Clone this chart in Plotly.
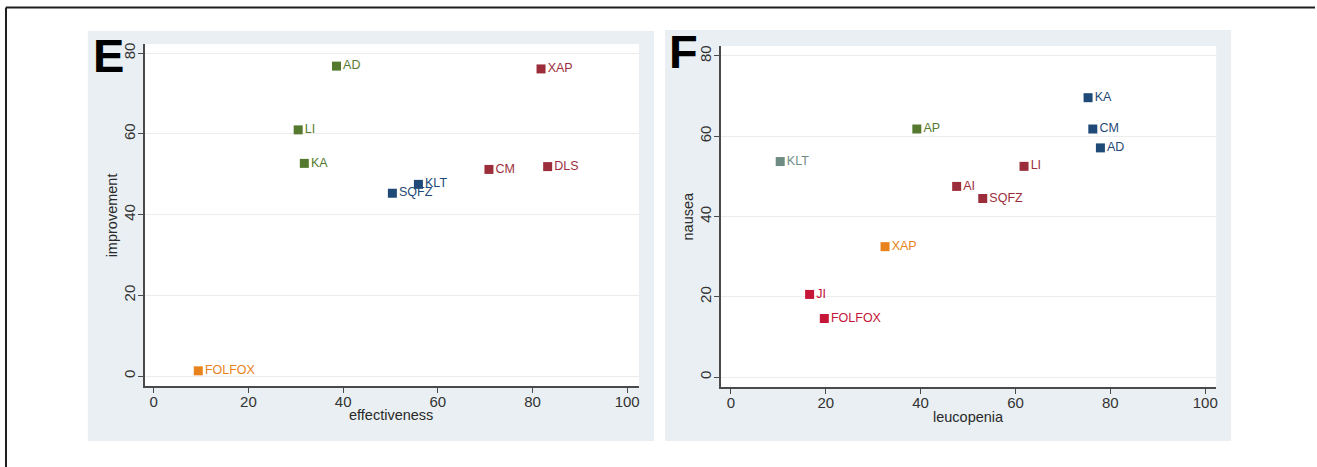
import plotly.graph_objects as go

# Panel E: effectiveness vs improvement
e_labels = ["AD", "LI", "KA", "XAP", "CM", "DLS", "KLT", "SQFZ", "FOLFOX"]
e_effectiveness = [38.6, 30.5, 31.8, 81.8, 70.8, 83.2, 55.9, 50.4, 9.4]
e_improvement = [76.8, 61.0, 52.7, 76.1, 51.2, 51.9, 47.5, 45.3, 1.3]

# Panel F: leucopenia vs nausea
f_labels = ["KA", "CM", "AD", "AP", "KLT", "LI", "AI", "SQFZ", "XAP", "JI", "FOLFOX"]
f_leucopenia = [75.3, 76.3, 77.9, 39.2, 10.4, 61.8, 47.6, 53.1, 32.5, 16.6, 19.7]
f_nausea = [69.6, 61.8, 57.1, 61.8, 53.7, 52.5, 47.5, 44.5, 32.5, 20.6, 14.6]

tick_vals = [0, 20, 40, 60, 80, 100]
tick_text = ["0", "20", "40", "60", "80", "100"]

GREEN = "#557a2f"
MAROON = "#9c2e3b"
NAVY = "#1f4a78"
ORANGE = "#e8821c"
CRIMSON = "#c51539"
SAGE = "#6f8c84"

e_colors = {"AD": GREEN, "LI": GREEN, "KA": GREEN, "XAP": MAROON, "CM": MAROON,
            "DLS": MAROON, "KLT": NAVY, "SQFZ": NAVY, "FOLFOX": ORANGE}
f_colors = {"KA": NAVY, "CM": NAVY, "AD": NAVY, "AP": GREEN, "KLT": SAGE,
            "LI": MAROON, "AI": MAROON, "SQFZ": MAROON, "XAP": ORANGE,
            "JI": CRIMSON, "FOLFOX": CRIMSON}

W, H = 1317, 467
FONT = "Liberation Sans, Arial, sans-serif"
PANEL_BG = "#e9eff2"


def px(x):
    return x / W


def py(y):
    return (H - y) / H


fig = go.Figure()


def add_points(labels, xs, ys, colors, xa, ya):
    for lab, x, y in zip(labels, xs, ys):
        c = colors[lab]
        fig.add_trace(go.Scatter(
            x=[x], y=[y], mode="markers+text", text=[lab],
            textposition="middle right",
            textfont=dict(family=FONT, size=12.5, color=c),
            marker=dict(symbol="square", size=9, color=c, line=dict(width=0)),
            xaxis=xa, yaxis=ya, showlegend=False, hoverinfo="skip",
            cliponaxis=False,
        ))


add_points(e_labels, e_effectiveness, e_improvement, e_colors, "x", "y")
add_points(f_labels, f_leucopenia, f_nausea, f_colors, "x2", "y2")

axis_common = dict(
    showline=True, linecolor="#4a4a4a", linewidth=1.5,
    ticks="outside", ticklen=5, tickwidth=1, tickcolor="#4a4a4a",
    tickfont=dict(family=FONT, size=15, color="#333333"),
    zeroline=False, fixedrange=True,
)

xaxis_common = dict(axis_common, showgrid=False, tickvals=tick_vals, ticktext=tick_text,
                    ticklabelstandoff=-4)
yaxis_common = dict(axis_common, showgrid=True, gridcolor="#ececec", gridwidth=1,
                    tickvals=tick_vals[:-1], ticktext=tick_text[:-1], tickangle=-90,
                    ticklabelstandoff=-3)

fig.update_layout(
    width=W, height=H,
    margin=dict(l=0, r=0, t=0, b=0),
    paper_bgcolor="white",
    plot_bgcolor="rgba(0,0,0,0)",
    xaxis=dict(xaxis_common, domain=[px(145), px(640)], range=[-1.9, 102.5], anchor="y"),
    yaxis=dict(yaxis_common, domain=[py(386), py(43)], range=[-2.5, 82.3], anchor="x"),
    xaxis2=dict(xaxis_common, domain=[px(722), px(1218)], range=[-2.1, 102.3], anchor="y2"),
    yaxis2=dict(yaxis_common, domain=[py(387), py(45)], range=[-2.5, 82.5], anchor="x2"),
)

shapes = [
    # outer frame (top and left edges)
    dict(type="line", xref="paper", yref="paper", x0=px(6), x1=1, y0=py(6.5), y1=py(6.5),
         line=dict(color="#1e1e1e", width=2)),
    dict(type="line", xref="paper", yref="paper", x0=px(6), x1=px(6), y0=py(6.5), y1=0,
         line=dict(color="#1e1e1e", width=2)),
    # graph regions
    dict(type="rect", xref="paper", yref="paper", x0=px(88), x1=px(655), y0=py(441), y1=py(30),
         fillcolor=PANEL_BG, line=dict(width=0), layer="below"),
    dict(type="rect", xref="paper", yref="paper", x0=px(666), x1=px(1233), y0=py(441), y1=py(29),
         fillcolor=PANEL_BG, line=dict(width=0), layer="below"),
    # plot regions
    dict(type="rect", xref="paper", yref="paper", x0=px(145), x1=px(640), y0=py(386), y1=py(43),
         fillcolor="white", line=dict(width=0), layer="below"),
    dict(type="rect", xref="paper", yref="paper", x0=px(722), x1=px(1218), y0=py(387), y1=py(45),
         fillcolor="white", line=dict(width=0), layer="below"),
]
fig.update_layout(shapes=shapes)

# axis titles
title_font = dict(family=FONT, size=14.5, color="#2a2a2a")
fig.add_annotation(text="effectiveness", xref="paper", yref="paper", x=px(392), y=py(415),
                   xanchor="center", yanchor="middle", showarrow=False, font=title_font)
fig.add_annotation(text="improvement", xref="paper", yref="paper", x=px(112), y=py(215),
                   xanchor="center", yanchor="middle", showarrow=False, font=title_font,
                   textangle=-90)
fig.add_annotation(text="leucopenia", xref="paper", yref="paper", x=px(970), y=py(417),
                   xanchor="center", yanchor="middle", showarrow=False, font=title_font)
fig.add_annotation(text="nausea", xref="paper", yref="paper", x=px(689), y=py(215),
                   xanchor="center", yanchor="middle", showarrow=False, font=title_font,
                   textangle=-90)

# panel letters
panel_font = dict(family="Liberation Sans, Arial, sans-serif", size=47, color="black")
fig.add_annotation(text="<b>E</b>", xref="paper", yref="paper", x=px(109), y=py(55),
                   xanchor="center", yanchor="middle", showarrow=False, font=panel_font)
fig.add_annotation(text="<b>F</b>", xref="paper", yref="paper", x=px(685), y=py(51),
                   xanchor="center", yanchor="middle", showarrow=False, font=panel_font)

fig.write_html("out.html")
